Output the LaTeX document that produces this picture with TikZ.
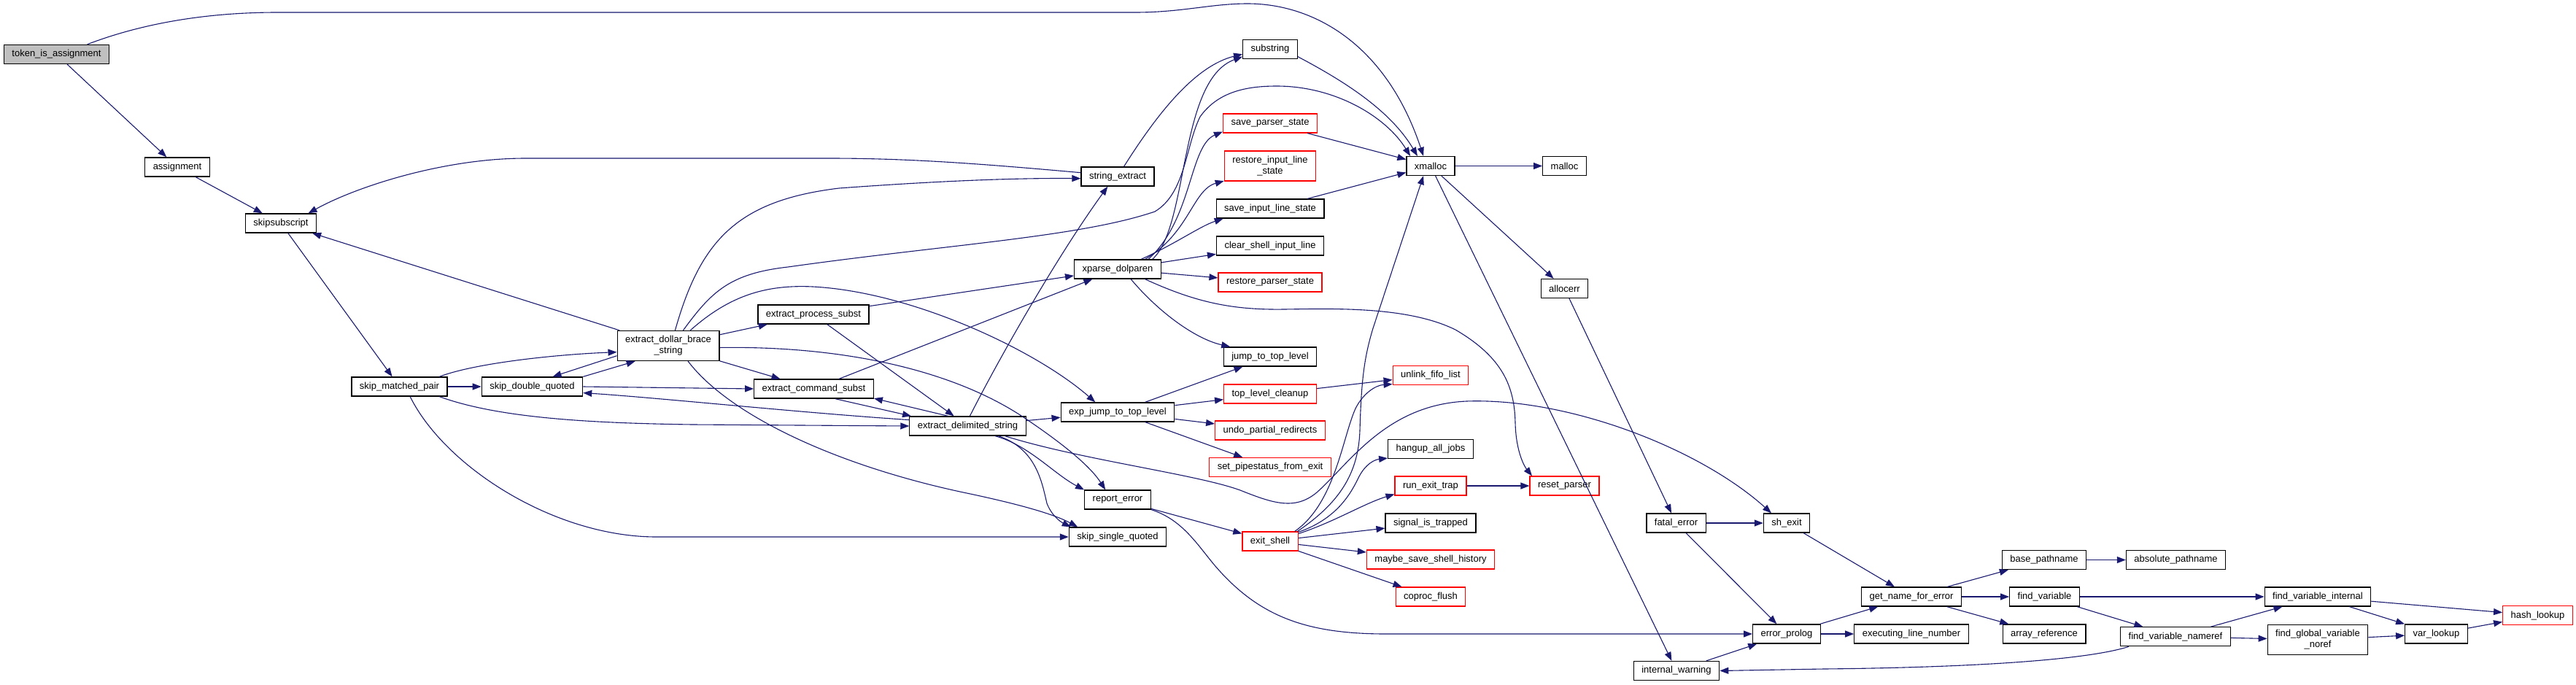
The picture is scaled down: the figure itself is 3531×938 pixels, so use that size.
\documentclass[tikz,border=0pt]{standalone}
\usepackage{fontspec}
\setmainfont{Liberation Sans}
\usepackage{tikz}
\usetikzlibrary{arrows.meta}
\definecolor{edgeblue}{RGB}{25,25,112}
\definecolor{rootgray}{RGB}{191,191,191}

\begin{document}
\begin{tikzpicture}[
    x=1pt, y=-1pt,
    fn/.style={rectangle, draw=black, line width=1.2pt, fill=white,
               font=\fontsize{13}{15}\selectfont, align=center,
               inner xsep=11pt, inner ysep=7pt, minimum height=26pt},
    fnred/.style={fn, draw=red},
    fnroot/.style={fn, fill=rootgray},
    call/.style={draw=edgeblue, line width=1.1pt, -{Triangle[length=12pt,width=9pt]}}
]
    \useasboundingbox (0,0) rectangle (3531,938);

    \node[fnroot] (tia) at (77.5,74.5) {token\_is\_assignment};
    \node[fn] (asg) at (243,229) {assignment};
    \node[fn] (sks) at (385,306) {skipsubscript};
    \node[fn] (smp) at (547.5,530) {skip\_matched\_pair};
    \node[fn] (sdq) at (729.5,530) {skip\_double\_quoted};
    \node[fn] (edb) at (916,474) {extract\_dollar\_brace\\\_string};
    \node[fn] (eps) at (1115,431) {extract\_process\_subst};
    \node[fn] (ecs) at (1115.5,533) {extract\_command\_subst};
    \node[fn] (eds) at (1326.5,584) {extract\_delimited\_string};
    \node[fn] (sex) at (1532,242) {string\_extract};
    \node[fn] (xpd) at (1532,369) {xparse\_dolparen};
    \node[fn] (ejt) at (1532,565) {exp\_jump\_to\_top\_level};
    \node[fn] (rpe) at (1532,685) {report\_error};
    \node[fn] (ssq) at (1532,736) {skip\_single\_quoted};

    \node[fn] (sub) at (1741,67.5) {substring};
    \node[fnred] (sps) at (1741,169) {save\_parser\_state};
    \node[fnred] (ril) at (1741,227.5) {restore\_input\_line\\\_state};
    \node[fn] (sil) at (1741,286) {save\_input\_line\_state};
    \node[fn] (csl) at (1741,337) {clear\_shell\_input\_line};
    \node[fnred] (rps) at (1741,387) {restore\_parser\_state};
    \node[fn] (jtl) at (1741,489) {jump\_to\_top\_level};
    \node[fnred] (tlc) at (1741,540) {top\_level\_cleanup};
    \node[fnred] (upr) at (1741,590) {undo\_partial\_redirects};
    \node[fnred] (spe) at (1741,640.5) {set\_pipestatus\_from\_exit};
    \node[fnred] (exs) at (1741,742) {exit\_shell};

    \node[fn] (xml) at (1961,227.5) {xmalloc};
    \node[fnred] (ufl) at (1961,514.5) {unlink\_fifo\_list};
    \node[fn] (haj) at (1961,615.5) {hangup\_all\_jobs};
    \node[fnred] (ret) at (1961,666) {run\_exit\_trap};
    \node[fn] (sit) at (1961,717) {signal\_is\_trapped};
    \node[fnred] (mss) at (1961,767) {maybe\_save\_shell\_history};
    \node[fnred] (cfl) at (1961,818) {coproc\_flush};

    \node[fn] (mal) at (2144.5,227.5) {malloc};
    \node[fn] (ace) at (2144.5,395.5) {allocerr};
    \node[fnred] (rsp) at (2144.5,666) {reset\_parser};
    \node[fn] (fte) at (2297.5,717) {fatal\_error};
    \node[fn] (iwn) at (2298,919.5) {internal\_warning};
    \node[fn] (she) at (2449,717) {sh\_exit};
    \node[fn] (epr) at (2449,869) {error\_prolog};
    \node[fn] (gne) at (2620,818) {get\_name\_for\_error};
    \node[fn] (eln) at (2620,869) {executing\_line\_number};
    \node[fn] (bpn) at (2802,767.5) {base\_pathname};
    \node[fn] (apn) at (2982.5,767.5) {absolute\_pathname};
    \node[fn] (fva) at (2802.5,818) {find\_variable};
    \node[fn] (arf) at (2802,869) {array\_reference};
    \node[fn] (fvn) at (2982,872.7) {find\_variable\_nameref};
    \node[fn] (fvi) at (3177,818) {find\_variable\_internal};
    \node[fn] (fgv) at (3177,877) {find\_global\_variable\\\_noref};
    \node[fn] (vlk) at (3339.5,869) {var\_lookup};
    \node[fnred] (hlk) at (3478.5,843.7) {hash\_lookup};

    % straight calls
    \draw[call] (tia) -- (asg);
    \draw[call] (asg) -- (sks);
    \draw[call] (sks) -- (smp);
    \draw[call] (edb) -- (sks);
    \draw[call] (smp) -- (sdq);
    \draw[call] (sdq.north east) -- (edb.205);
    \draw[call] (edb.191) -- (sdq.26);
    \draw[call] (sdq.east) -- (ecs.west);
    \draw[call] (edb) -- (eps);
    \draw[call] (edb) -- (ecs);
    \draw[call] (eps) -- (eds);
    \draw[call] (eps) -- (xpd);
    \draw[call] (ecs) -- (xpd);
    \draw[call] (ecs.335) -- (eds.170);
    \draw[call] (eds.153) -- (ecs.351);
    \draw[call] (eds) -- (ejt);
    \draw[call] (xpd) -- (csl);
    \draw[call] (xpd) -- (rps);
    \draw[call] (ejt) -- (jtl);
    \draw[call] (ejt) -- (tlc);
    \draw[call] (ejt) -- (upr);
    \draw[call] (ejt) -- (spe);
    \draw[call] (rpe.345) -- (exs);
    \draw[call] (exs) -- (sit);
    \draw[call] (exs) -- (mss);
    \draw[call] (exs) -- (cfl);
    \draw[call] (tlc) -- (ufl);
    \draw[call] (ret) -- (rsp);
    \draw[call] (sps) -- (xml);
    \draw[call] (sil) -- (xml);
    \draw[call] (xml) -- (mal);
    \draw[call] (xml) -- (ace);
    \draw[call] (xml) -- (iwn);
    \draw[call] (ace) -- (fte);
    \draw[call] (fte) -- (she);
    \draw[call] (fte) -- (epr);
    \draw[call] (she) -- (gne);
    \draw[call] (epr) -- (gne);
    \draw[call] (epr) -- (eln);
    \draw[call] (iwn) -- (epr);
    \draw[call] (gne) -- (bpn);
    \draw[call] (gne) -- (fva);
    \draw[call] (gne) -- (arf);
    \draw[call] (bpn) -- (apn);
    \draw[call] (fva) -- (fvi);
    \draw[call] (fva) -- (fvn);
    \draw[call] (fvn) -- (fvi);
    \draw[call] (fvn) -- (fgv);
    \draw[call] (fvi) -- (hlk);
    \draw[call] (fvi) -- (vlk);
    \draw[call] (fgv) -- (vlk);
    \draw[call] (vlk) -- (hlk);

    % curved calls
    \draw[call] (tia.18) .. controls (200,30) and (290,17) .. (380,17) -- (1556,17)
        .. controls (1620,17) and (1660,5) .. (1710,5) .. controls (1800,5) and (1900,60) .. (xml.126);
    \draw[call] (sex.174) .. controls (1350,225) and (1250,217) .. (1137,217) -- (720,217)
        .. controls (610,217) and (490,255) .. (sks.20);
    \draw[call] (smp.14) .. controls (650,498) and (760,486) .. (edb.187);
    \draw[call] (smp.346) .. controls (680,572) and (800,580) .. (950,582) -- (eds.west);
    \draw[call] (eds.174) .. controls (1100,566) and (900,545) .. (sdq.353);
    \draw[call] (smp.317) .. controls (610,640) and (760,736) .. (900,736) -- (ssq.west);
    \draw[call] (edb.66) .. controls (960,330) and (1010,275) .. (1150,258)
        .. controls (1300,247) and (1400,244) .. (sex.183);
    \draw[call] (edb.46) .. controls (975,400) and (1000,375) .. (1080,366)
        .. controls (1300,335) and (1480,325) .. (1583,290)
        .. controls (1625,265) and (1625,200) .. (1645,160)
        .. controls (1670,125) and (1710,118) .. (1750,118)
        .. controls (1830,118) and (1900,160) .. (xml.154);
    \draw[call] (edb.35) .. controls (1000,405) and (1050,390) .. (1114,393)
        .. controls (1250,400) and (1420,480) .. (ejt.156);
    \draw[call] (edb.358) .. controls (1150,474) and (1300,505) .. (1400,570)
        .. controls (1460,610) and (1495,640) .. (rpe.141);
    \draw[call] (edb.322) .. controls (1000,570) and (1150,640) .. (1330,677)
        .. controls (1400,692) and (1445,705) .. (ssq.166);
    \draw[call] (eds.78) .. controls (1370,490) and (1450,350) .. (sex.225);
    \draw[call] (eds.340) .. controls (1410,610) and (1445,650) .. (rpe.north west);
    \draw[call] (eds.342) .. controls (1420,615) and (1428,660) .. (1435,690)
        .. controls (1442,708) and (1455,716) .. (ssq.168);
    \draw[call] (eds.345) .. controls (1480,630) and (1640,650) .. (1700,672)
        .. controls (1745,690) and (1775,700) .. (1805,675)
        .. controls (1850,635) and (1900,555) .. (2010,550)
        .. controls (2150,545) and (2330,615) .. (she.147);
    \draw[call] (xpd.16) .. controls (1630,310) and (1615,110) .. (sub.195);
    \draw[call] (sex.58) .. controls (1590,150) and (1640,90) .. (sub.190);
    \draw[call] (xpd.18) .. controls (1635,300) and (1630,200) .. (sps.190);
    \draw[call] (xpd.20) .. controls (1630,320) and (1635,260) .. (ril.198);
    \draw[call] (xpd.23) .. controls (1610,335) and (1645,310) .. (sil.192);
    \draw[call] (xpd.323) .. controls (1590,430) and (1640,465) .. (jtl.166);
    \draw[call] (xpd.340) .. controls (1640,415) and (1690,425) .. (1760,424)
        .. controls (1830,423) and (1930,420) .. (1995,452)
        .. controls (2060,490) and (2076,530) .. (2077,580)
        .. controls (2078,620) and (2090,640) .. (rsp.163);
    \draw[call] (rpe.south east) .. controls (1620,712) and (1640,745) .. (1665,775)
        .. controls (1725,845) and (1790,869) .. (1900,869) -- (epr.west);
    \draw[call] (exs.22) .. controls (1830,690) and (1840,600) .. (1858,560)
        .. controls (1868,540) and (1885,528) .. (ufl.193);
    \draw[call] (exs.20) .. controls (1835,690) and (1862,650) .. (1864,590)
        .. controls (1866,520) and (1870,490) .. (1882,450) -- (xml.234);
    \draw[call] (exs.18) .. controls (1830,712) and (1850,680) .. (1862,655)
        .. controls (1872,635) and (1885,630) .. (haj.192);
    \draw[call] (exs.15) .. controls (1830,715) and (1870,690) .. (ret.193);
    \draw[call] (sub.345) .. controls (1840,110) and (1905,150) .. (xml.143);
    \draw[call] (fvn.192) .. controls (2860,905) and (2700,915) .. (2500,917) -- (iwn.east);
\end{tikzpicture}
\end{document}
